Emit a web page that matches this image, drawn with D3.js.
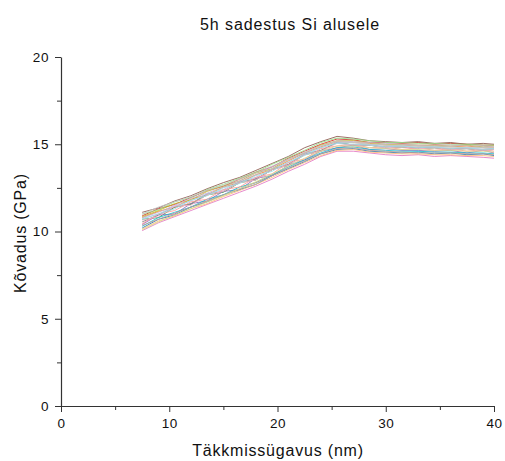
<!DOCTYPE html>
<html>
<head>
<meta charset="utf-8">
<script src="https://cdn.jsdelivr.net/npm/d3@7"></script>
<style>
  html, body { margin: 0; padding: 0; background: #fff; }
  svg text { font-family: "Liberation Sans", Arial, sans-serif; fill: #111; }
</style>
</head>
<body>
<svg id="chart" width="505" height="461"></svg>
<script>
// Indentation depth grid (nm) shared by all measurement curves
const depthNm = [7.5, 9, 10.5, 12, 13.5, 15, 16.5, 18, 19.5, 21, 22.5, 24, 25.5, 27, 28.5, 30, 31.5, 33, 34.5, 36, 37.5, 39, 40];

// Hardness (GPa) of each indent, one row per measurement
const hardnessRuns = [
  [10.9, 11.3, 11.55, 11.95, 12.35, 12.6, 13.0, 13.4, 13.7, 14.2, 14.6, 15.0, 15.3, 15.25, 15.1, 15.1, 15.05, 15.1, 15.0, 15.05, 15.0, 14.95, 14.95],
  [10.2, 10.7, 10.95, 11.4, 11.7, 12.1, 12.4, 12.7, 13.2, 13.6, 14.0, 14.45, 14.7, 14.75, 14.6, 14.55, 14.5, 14.55, 14.45, 14.5, 14.4, 14.45, 14.35],
  [10.7, 10.8, 11.4, 11.55, 12.1, 12.25, 12.8, 12.95, 13.55, 13.8, 14.4, 14.6, 15.1, 14.95, 14.95, 14.8, 14.85, 14.75, 14.8, 14.7, 14.75, 14.65, 14.7],
  [10.8, 11.15, 11.4, 11.85, 12.1, 12.55, 12.8, 13.25, 13.55, 14.05, 14.5, 14.85, 15.15, 15.1, 15.05, 14.95, 14.95, 14.9, 14.9, 14.85, 14.9, 14.8, 14.8],
  [10.4, 10.95, 11.0, 11.6, 11.75, 12.3, 12.4, 13.05, 13.2, 13.8, 14.1, 14.6, 14.8, 14.95, 14.7, 14.75, 14.65, 14.65, 14.6, 14.65, 14.5, 14.65, 14.5],
  [11.1, 11.35, 11.75, 12.05, 12.45, 12.8, 13.1, 13.5, 13.9, 14.3, 14.8, 15.15, 15.45, 15.35, 15.2, 15.15, 15.1, 15.15, 15.05, 15.1, 15.0, 15.05, 15.0],
  [10.05, 10.5, 10.85, 11.2, 11.55, 11.9, 12.25, 12.6, 13.0, 13.45, 13.85, 14.3, 14.6, 14.6, 14.5, 14.4, 14.35, 14.4, 14.3, 14.35, 14.3, 14.25, 14.2],
  [10.55, 10.95, 11.4, 11.6, 12.15, 12.3, 12.85, 13.0, 13.55, 13.85, 14.45, 14.65, 15.1, 14.95, 14.95, 14.85, 14.85, 14.8, 14.8, 14.75, 14.75, 14.7, 14.75],
  [10.85, 11.2, 11.6, 11.8, 12.3, 12.6, 12.9, 13.35, 13.6, 14.15, 14.5, 14.95, 15.2, 15.2, 15.1, 15.0, 15.0, 14.95, 14.95, 14.9, 14.95, 14.85, 14.9],
  [10.3, 10.8, 11.1, 11.4, 11.85, 12.1, 12.55, 12.8, 13.25, 13.7, 14.1, 14.5, 14.8, 14.85, 14.7, 14.65, 14.6, 14.6, 14.55, 14.55, 14.5, 14.5, 14.45],
  [10.75, 11.0, 11.45, 11.75, 12.15, 12.4, 12.85, 13.1, 13.6, 13.95, 14.45, 14.8, 15.1, 15.1, 15.0, 14.95, 14.9, 14.9, 14.85, 14.85, 14.8, 14.8, 14.75],
  [10.15, 10.6, 10.9, 11.3, 11.6, 12.0, 12.35, 12.7, 13.1, 13.55, 13.95, 14.35, 14.65, 14.7, 14.55, 14.5, 14.45, 14.45, 14.4, 14.4, 14.35, 14.35, 14.3],
  [11.0, 11.25, 11.7, 11.95, 12.4, 12.7, 13.05, 13.4, 13.85, 14.25, 14.65, 15.1, 15.35, 15.3, 15.2, 15.1, 15.1, 15.05, 15.05, 15.0, 15.0, 14.95, 14.95],
  [10.45, 11.0, 11.2, 11.7, 11.85, 12.4, 12.55, 13.1, 13.3, 13.95, 14.15, 14.75, 14.9, 15.0, 14.8, 14.85, 14.7, 14.8, 14.65, 14.75, 14.6, 14.7, 14.6],
  [10.8, 11.1, 11.5, 11.9, 12.2, 12.55, 12.9, 13.25, 13.7, 14.1, 14.5, 14.9, 15.2, 15.15, 15.1, 15.05, 15.0, 14.95, 14.95, 14.95, 14.9, 14.9, 14.85],
  [10.35, 10.7, 11.05, 11.4, 11.75, 12.1, 12.45, 12.8, 13.2, 13.65, 14.05, 14.45, 14.75, 14.8, 14.65, 14.6, 14.55, 14.5, 14.5, 14.5, 14.45, 14.45, 14.4],
  [10.65, 10.85, 11.45, 11.5, 12.1, 12.3, 12.8, 12.95, 13.55, 13.8, 14.4, 14.6, 15.05, 14.95, 14.95, 14.8, 14.85, 14.75, 14.8, 14.7, 14.75, 14.65, 14.7],
  [11.0, 11.4, 11.7, 12.0, 12.35, 12.65, 13.0, 13.35, 13.75, 14.15, 14.55, 14.9, 15.15, 15.1, 15.0, 14.95, 14.9, 14.9, 14.85, 14.85, 14.8, 14.8, 14.8],
  [10.1, 10.55, 10.95, 11.3, 11.7, 12.05, 12.45, 12.85, 13.3, 13.75, 14.2, 14.6, 14.9, 14.9, 14.8, 14.75, 14.7, 14.7, 14.65, 14.65, 14.6, 14.6, 14.55],
  [10.7, 11.0, 11.3, 11.8, 12.05, 12.5, 12.75, 13.2, 13.45, 14.0, 14.35, 14.8, 15.05, 15.0, 14.95, 14.85, 14.9, 14.8, 14.85, 14.75, 14.8, 14.7, 14.75]
];

const runColors = [
  "#d62728", "#1f77b4", "#2ca02c", "#ff7f0e", "#9467bd", "#8c564b", "#e377c2", "#7f7f7f", "#bcbd22", "#17becf",
  "#aec7e8", "#ffbb78", "#98df8a", "#ff9896", "#c5b0d5", "#c49c94", "#f7b6d2", "#c7c7c7", "#dbdb8d", "#9edae5"
];

const xTicks = [0, 10, 20, 30, 40];
const yTicks = [0, 5, 10, 15, 20];

const titleText = "5h sadestus Si alusele";
const xLabel = "Täkkmissügavus (nm)";
const yLabel = "Kõvadus (GPa)";

const W = 505, H = 461;
const margin = { top: 57, right: 11, bottom: 55, left: 61 };

const svg = d3.select("#chart");

const x = d3.scaleLinear().domain([0, 40]).range([margin.left, W - margin.right]);
const y = d3.scaleLinear().domain([0, 20]).range([H - margin.bottom, margin.top]);

// measurement curves
const line = d3.line()
  .x((d, i) => x(depthNm[i]))
  .y(d => y(d));

svg.append("g")
  .attr("fill", "none")
  .selectAll("path")
  .data(hardnessRuns)
  .join("path")
  .attr("d", line)
  .attr("stroke", (d, i) => runColors[i % runColors.length])
  .attr("stroke-width", 1)
  .attr("stroke-opacity", 0.85)
  .attr("stroke-linejoin", "round");

// axes: major ticks with labels plus unlabelled minor ticks in between
function styleAxis(g) {
  g.select(".domain").attr("stroke", "#333").attr("stroke-width", 1.2);
  g.selectAll(".tick line").attr("stroke", "#333").attr("stroke-width", 1);
  g.selectAll(".tick text")
    .attr("font-size", 13.5)
    .attr("letter-spacing", "0.6px")
    .attr("fill", "#111");
}

const xAxis = svg.append("g")
  .attr("transform", `translate(0,${y(0)})`)
  .call(d3.axisBottom(x).tickValues(xTicks).tickSize(6).tickPadding(6).tickSizeOuter(0));
styleAxis(xAxis);

svg.append("g")
  .attr("transform", `translate(0,${y(0)})`)
  .call(d3.axisBottom(x).tickValues([5, 15, 25, 35]).tickSize(4).tickFormat("").tickSizeOuter(0))
  .call(g => { g.select(".domain").remove(); g.selectAll(".tick line").attr("stroke", "#333"); });

const yAxis = svg.append("g")
  .attr("transform", `translate(${x(0)},0)`)
  .call(d3.axisLeft(y).tickValues(yTicks).tickSize(6).tickPadding(6).tickSizeOuter(0));
styleAxis(yAxis);

svg.append("g")
  .attr("transform", `translate(${x(0)},0)`)
  .call(d3.axisLeft(y).tickValues([2.5, 7.5, 12.5, 17.5]).tickSize(4).tickFormat("").tickSizeOuter(0))
  .call(g => { g.select(".domain").remove(); g.selectAll(".tick line").attr("stroke", "#333"); });

// title and axis labels
svg.append("text")
  .attr("x", 290)
  .attr("y", 30)
  .attr("text-anchor", "middle")
  .attr("font-size", 16)
  .attr("letter-spacing", "0.9px")
  .text(titleText);

svg.append("text")
  .attr("x", 278)
  .attr("y", 456)
  .attr("text-anchor", "middle")
  .attr("font-size", 16)
  .attr("letter-spacing", "0.8px")
  .text(xLabel);

svg.append("text")
  .attr("transform", `translate(26,233) rotate(-90)`)
  .attr("text-anchor", "middle")
  .attr("font-size", 16)
  .attr("letter-spacing", "0.8px")
  .text(yLabel);
</script>
</body>
</html>
